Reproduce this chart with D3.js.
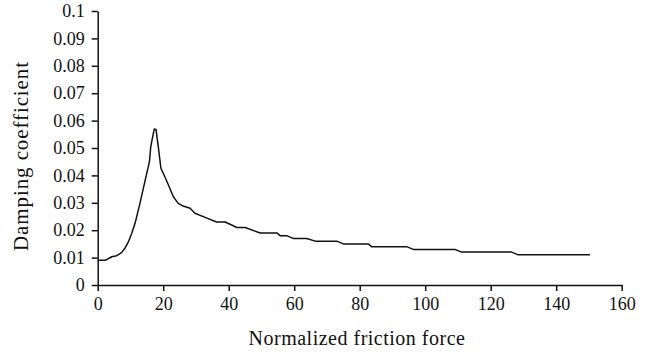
<!DOCTYPE html>
<html>
<head>
<meta charset="utf-8">
<script src="https://cdn.jsdelivr.net/npm/d3@7"></script>
<style>
  body { margin: 0; background: #fff; }
  text { font-family: "Liberation Serif", "Times New Roman", serif; fill: #111; }
</style>
</head>
<body>
<script>
var w = 651;
var h = 356;

// Data
var forceValues = [0, 2.3, 4.3, 5.8, 7.3, 8.3, 9.4, 10.4, 11.4, 12.9, 14.4, 15.8, 16.2, 17.0, 17.3, 17.8,
    18.5, 19.3, 20.5, 21.6, 23.1, 24.6, 26.1, 28.2, 29.7, 32.8, 36.3, 38.9, 40.9, 42.5, 45, 49.6,
    54.7, 55.7, 57.7, 59.7, 63.8, 66.4, 73, 75, 82.6, 83.6, 94.3, 96.4, 109.1, 111.1, 126.4, 128.4, 150.3];
var dampingValues = [0.009, 0.009, 0.0103, 0.0107, 0.0118, 0.0134, 0.0158, 0.0189, 0.0225, 0.0298, 0.0377, 0.045, 0.0505, 0.0554, 0.0569, 0.0568,
    0.0505, 0.0426, 0.0395, 0.0365, 0.0322, 0.0298, 0.0288, 0.028, 0.0262, 0.0247, 0.023, 0.023, 0.0219, 0.021, 0.021, 0.019,
    0.019, 0.018, 0.018, 0.017, 0.017, 0.016, 0.016, 0.015, 0.015, 0.014, 0.014, 0.013, 0.013, 0.012, 0.012, 0.011, 0.011];
var xTicks = [0, 20, 40, 60, 80, 100, 120, 140, 160];
var yTicks = [0, 0.01, 0.02, 0.03, 0.04, 0.05, 0.06, 0.07, 0.08, 0.09, 0.1];

var plotLeft = 97.7, plotRight = 621.7, plotTop = 11, plotBottom = 285;

var svg = d3.select("body")
    .append("svg")
    .attr("width", w)
    .attr("height", h);

var x = d3.scaleLinear().domain([0, 160]).range([plotLeft, plotRight]);
var y = d3.scaleLinear().domain([0, 0.1]).range([plotBottom, plotTop]);

// x axis
svg.append("g")
    .attr("transform", "translate(0," + plotBottom + ")")
    .call(d3.axisBottom(x).tickValues(xTicks).tickSize(6).tickSizeOuter(0).tickPadding(6)
        .tickFormat(function(d) { return d; }));

// y axis
svg.append("g")
    .attr("transform", "translate(" + plotLeft + ",0)")
    .call(d3.axisLeft(y).tickValues(yTicks).tickSize(6).tickSizeOuter(0).tickPadding(7)
        .tickFormat(function(d) { return d === 0 ? "0" : String(+d.toFixed(2)); }));

svg.selectAll(".domain, .tick line")
    .attr("stroke", "#111")
    .attr("stroke-width", 1.5);

svg.selectAll(".tick text")
    .attr("font-family", "Liberation Serif, serif")
    .style("font-size", "18px")
    .attr("fill", "#111");

// the curve
var line = d3.line()
    .x(function(d) { return x(d[0]); })
    .y(function(d) { return y(d[1]); });

svg.append("path")
    .datum(d3.zip(forceValues, dampingValues))
    .attr("d", line)
    .attr("fill", "none")
    .attr("stroke", "#111")
    .attr("stroke-width", 1.5)
    .attr("stroke-linejoin", "round");

// axis titles
svg.append("text")
    .attr("x", 357)
    .attr("y", 345)
    .attr("text-anchor", "middle")
    .style("font-size", "20px")
    .style("letter-spacing", "0.5px")
    .text("Normalized friction force");

svg.append("text")
    .attr("transform", "translate(28,156) rotate(-90)")
    .attr("text-anchor", "middle")
    .style("font-size", "21px")
    .style("letter-spacing", "0.9px")
    .text("Damping coefficient");
</script>
</body>
</html>
